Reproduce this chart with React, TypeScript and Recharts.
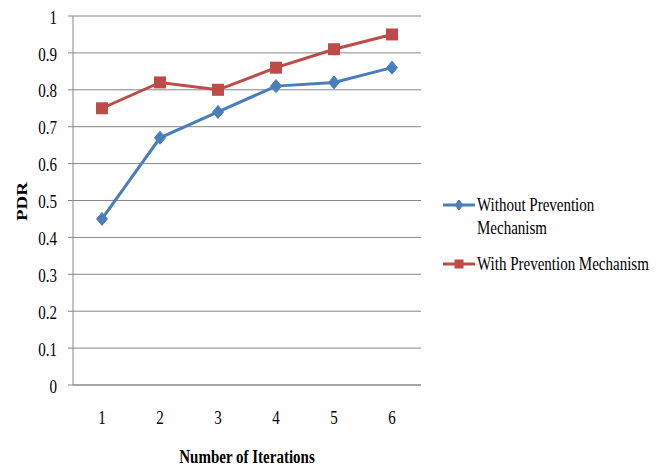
import React from "react";
import {
  LineChart,
  Line,
  XAxis,
  YAxis,
  CartesianGrid,
  Legend,
} from "recharts";

// Iteration numbers along the horizontal axis
const iterations = [1, 2, 3, 4, 5, 6];

// Packet delivery ratio per iteration
const withoutPrevention = [0.45, 0.67, 0.74, 0.81, 0.82, 0.86];
const withPrevention = [0.75, 0.82, 0.8, 0.86, 0.91, 0.95];

// Vertical axis tick values
const yTicks = [0, 0.1, 0.2, 0.3, 0.4, 0.5, 0.6, 0.7, 0.8, 0.9, 1];

const seriesNames = {
  without: "Without Prevention Mechanism",
  with: "With Prevention Mechanism",
};

const seriesOrder = ["without", "with"];

const BLUE = "#4A7EBB";
const RED = "#BE4B48";
const GRID = "#878787";
const FONT = '"Liberation Serif", "Times New Roman", serif';
const FONT_SIZE = 19;
const SQUEEZE = 0.79;

const data = iterations.map((it, i) => ({
  iter: it,
  without: withoutPrevention[i],
  with: withPrevention[i],
}));

const Diamond = ({ cx, cy, color, w = 5.5, h = 6.5 }: any) => (
  <path
    d={`M${cx},${cy - h} L${cx + w},${cy} L${cx},${cy + h} L${cx - w},${cy} Z`}
    fill={color}
    stroke={color}
    strokeWidth={1}
  />
);

const Square = ({ cx, cy, color, s = 6 }: any) => (
  <rect x={cx - s} y={cy - s} width={s * 2} height={s * 2} fill={color} />
);

const renderDiamondDot = (props: any) => (
  <Diamond key={`d-${props.index}`} cx={props.cx} cy={props.cy} color={BLUE} />
);

const renderSquareDot = (props: any) => (
  <Square key={`s-${props.index}`} cx={props.cx} cy={props.cy} color={RED} />
);

const SText = ({ x, y, anchor = "start", dy, bold, children }: any) => (
  <g transform={`translate(${x},${y}) scale(${SQUEEZE},1)`}>
    <text
      x={0}
      y={0}
      dy={dy}
      textAnchor={anchor}
      fontFamily={FONT}
      fontSize={FONT_SIZE}
      fontWeight={bold ? "bold" : "normal"}
      fill="#000"
    >
      {children}
    </text>
  </g>
);

const YTick = ({ x, y, payload }: any) => (
  <SText x={x} y={y + 1} anchor="end" dy="0.35em">
    {String(payload.value)}
  </SText>
);

const XTick = ({ x, y, payload }: any) => (
  <SText x={x} y={y} anchor="middle" dy="0.71em">
    {String(payload.value)}
  </SText>
);

const XTitle = ({ viewBox }: any) => (
  <SText x={viewBox.x + viewBox.width / 2} y={viewBox.y + 78} anchor="middle" bold>
    Number of Iterations
  </SText>
);

const YTitle = ({ viewBox }: any) => {
  const cx = 22;
  const cy = viewBox.y + viewBox.height / 2 + 1;
  return (
    <g transform={`translate(${cx},${cy}) scale(${SQUEEZE},1) rotate(-90)`}>
      <text
        x={0}
        y={0}
        dy="0.35em"
        textAnchor="middle"
        fontFamily={FONT}
        fontSize={FONT_SIZE}
        fontWeight="bold"
        fill="#000"
      >
        PDR
      </text>
    </g>
  );
};

let measureCtx: CanvasRenderingContext2D | null = null;
const measure = (s: string) => {
  if (!measureCtx) {
    measureCtx = document.createElement("canvas").getContext("2d");
  }
  if (!measureCtx) return s.length * FONT_SIZE * 0.45 * SQUEEZE;
  measureCtx.font = `${FONT_SIZE}px ${FONT}`;
  return measureCtx.measureText(s).width * SQUEEZE;
};

const wrap = (s: string, maxWidth: number) => {
  const words = s.split(" ");
  const lines: string[] = [];
  let cur = "";
  words.forEach((w) => {
    const next = cur ? `${cur} ${w}` : w;
    if (cur && measure(next) > maxWidth) {
      lines.push(cur);
      cur = w;
    } else {
      cur = next;
    }
  });
  if (cur) lines.push(cur);
  return lines;
};

const LEGEND_W = 223;

const LegendContent = ({ payload }: any) => {
  let cursor = 12;
  const items = (payload || []).map((entry: any) => {
    const lines = wrap(String(entry.value), LEGEND_W - 40);
    const y = cursor;
    cursor += lines.length * 23 + 13;
    const isBlue = entry.dataKey === "without";
    return (
      <g key={entry.dataKey}>
        <line x1={3} x2={35} y1={y} y2={y} stroke={entry.color} strokeWidth={3} />
        {isBlue ? (
          <Diamond cx={19} cy={y} color={BLUE} w={4} h={5} />
        ) : (
          <Square cx={19} cy={y} color={RED} s={4.5} />
        )}
        {lines.map((ln, k) => (
          <SText key={k} x={37} y={y + 6 + k * 23}>
            {ln}
          </SText>
        ))}
      </g>
    );
  });
  return (
    <svg width={LEGEND_W} height={100} style={{ display: "block", overflow: "visible" }}>
      {items}
    </svg>
  );
};

export default function App() {
  return (
    <div style={{ position: "absolute", left: 0, top: 0, background: "#fff" }}>
      <LineChart
        width={663}
        height={469}
        data={data}
        margin={{ top: 16, right: 242, bottom: 0, left: 0 }}
      >
        <CartesianGrid horizontal vertical={false} stroke={GRID} strokeWidth={1} />
        <XAxis
          dataKey="iter"
          type="category"
          padding={{ left: 29, right: 29 }}
          height={84}
          axisLine={{ stroke: GRID, strokeWidth: 1 }}
          tickLine={false}
          tickSize={0}
          tickMargin={25}
          tick={<XTick />}
          interval={0}
          label={{ content: <XTitle /> }}
        />
        <YAxis
          width={73}
          domain={[0, 1]}
          ticks={yTicks}
          interval={0}
          axisLine={{ stroke: GRID, strokeWidth: 1 }}
          tickLine={{ stroke: GRID, strokeWidth: 1 }}
          tickSize={5}
          tickMargin={11}
          tick={<YTick />}
          label={{ content: <YTitle /> }}
        />
        <Legend
          layout="vertical"
          content={<LegendContent />}
          itemSorter={(item: any) => seriesOrder.indexOf(item.dataKey)}
          wrapperStyle={{
            position: "absolute",
            left: 440,
            top: 193,
            width: 0,
            height: 0,
            overflow: "visible",
          }}
        />
        <Line
          dataKey="without"
          name={seriesNames.without}
          stroke={BLUE}
          strokeWidth={3}
          dot={renderDiamondDot}
          activeDot={false}
          isAnimationActive={false}
        />
        <Line
          dataKey="with"
          name={seriesNames.with}
          stroke={RED}
          strokeWidth={3}
          dot={renderSquareDot}
          activeDot={false}
          isAnimationActive={false}
        />
      </LineChart>
    </div>
  );
}
